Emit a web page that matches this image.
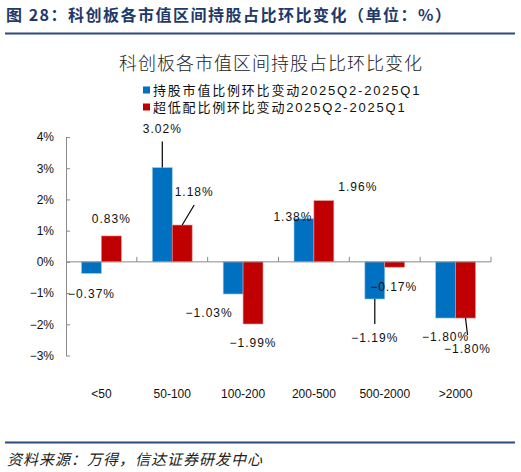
<!DOCTYPE html>
<html>
<head>
<meta charset="utf-8">
<script src="https://cdn.jsdelivr.net/npm/d3@7"></script>
<style>
  body { margin: 0; background: #fff; }
  text { font-family: "Liberation Sans", Arial, "Noto Sans CJK SC", sans-serif; }
  .cjk { font-family: "Noto Sans CJK SC", sans-serif; }
</style>
</head>
<body>
<div id="chart"></div>
<script>
const categories = ["<50", "50-100", "100-200", "200-500", "500-2000", ">2000"];
const holdingChange = [-0.37, 3.02, -1.03, 1.38, -1.19, -1.8];
const underweightChange = [0.83, 1.18, -1.99, 1.96, -0.17, -1.8];
const seriesNames = [
  "持股市值比例环比变动2025Q2-2025Q1",
  "超低配比例环比变动2025Q2-2025Q1",
];
const yTicks = [-3, -2, -1, 0, 1, 2, 3, 4];

const colors = ["#0070C0", "#C00000"];

// label placement (pixel offsets from the bar end), picked by eye
const labelOffsets = [
  [[0, 21], [0, -17]],
  [[0, -39], [12, -33]],
  [[-24, 19], [0, 19]],
  [[-11, -2], [34, -14]],
  [[0, 39], [-1, 20]],
  [[0, 19], [2, 31]],
];
const leaders = [
  [false, false],
  [true, true],
  [false, false],
  [false, false],
  [true, false],
  [false, true],
];

const width = 521;
const height = 472;
const plot = { left: 66, right: 491, top: 137, bottom: 355.5 };

const svg = d3
  .select("#chart")
  .append("svg")
  .attr("width", width)
  .attr("height", height);

// header
svg
  .append("text")
  .attr("class", "cjk")
  .attr("x", 6)
  .attr("y", 21)
  .attr("font-size", "16px")
  .attr("font-weight", "bold")
  .attr("letter-spacing", "1.5px")
  .attr("fill", "#1F3A68")
  .text("图 28：科创板各市值区间持股占比环比变化（单位：%）");

svg
  .append("line")
  .attr("x1", 5)
  .attr("x2", 515)
  .attr("y1", 33.5)
  .attr("y2", 33.5)
  .attr("stroke", "#2B4A7F")
  .attr("stroke-width", 2);

// chart title
svg
  .append("text")
  .attr("class", "cjk")
  .attr("x", 271)
  .attr("y", 70)
  .attr("text-anchor", "middle")
  .attr("font-size", "18px")
  .attr("font-weight", 300)
  .attr("letter-spacing", "1px")
  .attr("fill", "#222")
  .text("科创板各市值区间持股占比环比变化");

// legend
seriesNames.forEach((name, i) => {
  const ly = 90 + i * 17;
  svg
    .append("rect")
    .attr("x", 143)
    .attr("y", ly - 3.5)
    .attr("width", 7)
    .attr("height", 7)
    .attr("fill", colors[i]);
  svg
    .append("text")
    .attr("x", 153)
    .attr("y", ly + 4.5)
    .attr("font-size", "13px")
    .attr("letter-spacing", "1.8px")
    .attr("fill", "#111")
    .text(name);
});

const xScale = d3
  .scaleBand()
  .domain(categories)
  .range([plot.left, plot.right]);

const xInner = d3
  .scaleBand()
  .domain([0, 1])
  .range([0, xScale.bandwidth()])
  .paddingOuter(0.78)
  .paddingInner(0);

const yScale = d3
  .scaleLinear()
  .domain([-3, 4])
  .range([plot.bottom, plot.top]);

// y axis
const yAxis = d3
  .axisLeft(yScale)
  .tickValues(yTicks)
  .tickFormat((d) => (d < 0 ? "−" + Math.abs(d) : d) + "%")
  .tickSizeInner(-4)
  .tickSizeOuter(0)
  .tickPadding(12);

svg
  .append("g")
  .attr("transform", `translate(${plot.left},0)`)
  .call(yAxis)
  .call((g) => g.select(".domain").attr("stroke", "#8a8a8a"))
  .call((g) => g.selectAll(".tick line").attr("stroke", "#8a8a8a"))
  .call((g) =>
    g.selectAll(".tick text").attr("font-size", "12px").attr("fill", "#111")
  );

// bars
const data = categories.map((c, i) => ({
  category: c,
  values: [holdingChange[i], underweightChange[i]],
}));

const groups = svg
  .selectAll(".group")
  .data(data)
  .enter()
  .append("g")
  .attr("transform", (d) => `translate(${xScale(d.category)},0)`);

groups
  .selectAll("rect")
  .data((d) => d.values.map((v, s) => ({ v, s })))
  .enter()
  .append("rect")
  .attr("x", (d) => xInner(d.s))
  .attr("width", xInner.bandwidth())
  .attr("y", (d) => yScale(Math.max(0, d.v)))
  .attr("height", (d) => Math.abs(yScale(d.v) - yScale(0)))
  .attr("fill", (d) => colors[d.s])
  .attr("stroke", (d) => (d.s === 0 ? "#9cc7ea" : "#e88a8a"))
  .attr("stroke-width", 0.6);

// x axis along zero
const zeroY = yScale(0);
svg
  .append("line")
  .attr("x1", plot.left)
  .attr("x2", plot.right)
  .attr("y1", zeroY)
  .attr("y2", zeroY)
  .attr("stroke", "#8a8a8a");

const bounds = categories.map((c) => xScale(c) + xScale.bandwidth());
svg
  .selectAll(".xtick")
  .data(bounds)
  .enter()
  .append("line")
  .attr("x1", (d) => d)
  .attr("x2", (d) => d)
  .attr("y1", zeroY)
  .attr("y2", zeroY - 5)
  .attr("stroke", "#8a8a8a");

svg
  .selectAll(".xlabel")
  .data(categories)
  .enter()
  .append("text")
  .attr("x", (d) => xScale(d) + xScale.bandwidth() / 2)
  .attr("y", 398)
  .attr("text-anchor", "middle")
  .attr("font-size", "12px")
  .attr("fill", "#111")
  .text((d) => d);

// data labels with leader lines
const fmt = (v) => (v < 0 ? "−" : "") + Math.abs(v).toFixed(2) + "%";
data.forEach((d, i) => {
  d.values.forEach((v, s) => {
    const bx = xScale(d.category) + xInner(s) + xInner.bandwidth() / 2;
    const by = yScale(v);
    const [dx, dy] = labelOffsets[i][s];
    const lx = bx + dx;
    const ly = by + dy;
    if (leaders[i][s]) {
      svg
        .append("line")
        .attr("x1", bx)
        .attr("y1", by)
        .attr("x2", lx)
        .attr("y2", ly + (dy < 0 ? 13 : -14))
        .attr("stroke", "#000")
        .attr("stroke-width", 1.2);
    }
    svg
      .append("text")
      .attr("x", lx)
      .attr("y", ly + 4)
      .attr("text-anchor", "middle")
      .attr("font-size", "12px")
      .attr("letter-spacing", "1px")
      .attr("fill", "#111")
      .text(fmt(v));
  });
});

// footer
svg
  .append("line")
  .attr("x1", 5)
  .attr("x2", 515)
  .attr("y1", 442.5)
  .attr("y2", 442.5)
  .attr("stroke", "#2B4A7F")
  .attr("stroke-width", 2);

svg
  .append("text")
  .attr("class", "cjk")
  .attr("x", 7)
  .attr("y", 465)
  .attr("font-size", "15px")
  .attr("font-style", "italic")
  .attr("letter-spacing", "1px")
  .attr("fill", "#222")
  .text("资料来源：万得，信达证券研发中心");
</script>
</body>
</html>
